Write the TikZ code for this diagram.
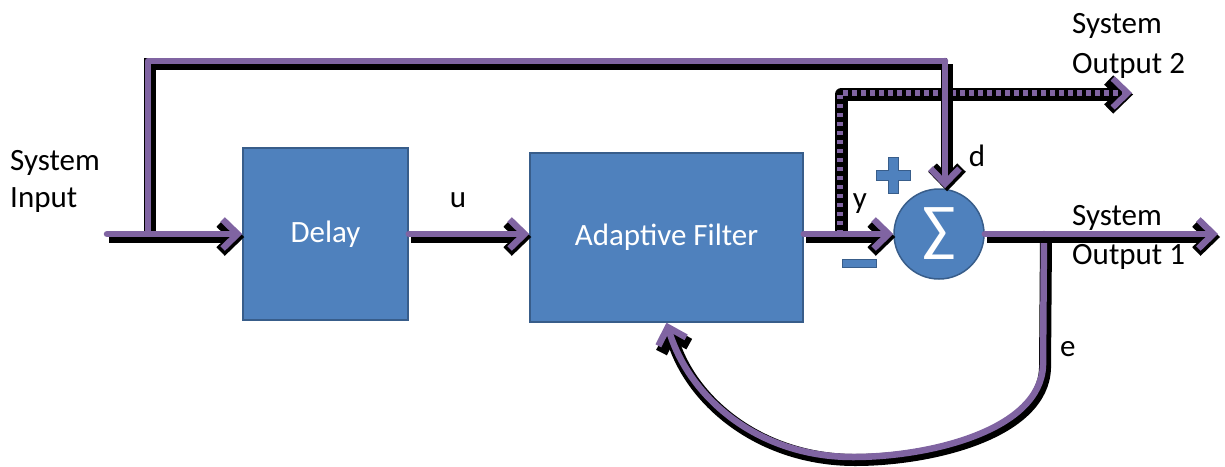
\documentclass[tikz,border=0pt]{standalone}
\usepackage{fontspec}
\setmainfont{Carlito}
\usetikzlibrary{arrows.meta}
\definecolor{boxfill}{HTML}{4F81BD}
\definecolor{boxline}{HTML}{385D8A}
\definecolor{wire}{HTML}{8064A2}
\begin{document}
\begin{tikzpicture}[x=1pt,y=-1pt,
 lbl/.style={font=\fontsize{31}{39}\selectfont, inner sep=0pt, anchor=base west},
 blk/.style={draw=boxline, fill=boxfill, line width=1.5pt, inner sep=0pt, text=white, font=\fontsize{31}{39}\selectfont},
 wirestyle/.style={draw=wire, line width=6.5pt, line cap=round, line join=round,
   preaction={draw=black, line width=12pt, transform canvas={xshift=2pt,yshift=-3pt}}},
 dotwire/.style={draw=wire, line width=6pt, line cap=butt, line join=miter, dash pattern=on 4.5pt off 4.5pt,
   preaction={draw=black, solid, line width=13pt, line cap=round, line join=round, transform canvas={xshift=1pt,yshift=-1.5pt}}},
 arr/.style={-{Straight Barb[length=15pt 0 0,width=29pt 0 0]}},
 sign/.style={fill=boxfill, draw=boxline, line width=1pt}
 ]
\useasboundingbox (0,0) rectangle (1225,466);
% blocks
\node[blk, minimum width=165pt, minimum height=172pt] (delay) at (325.5,234) {Delay};
\node[blk, minimum width=273pt, minimum height=169pt] (af) at (666.5,237.5) {Adaptive Filter};
\node[circle, draw=boxline, fill=boxfill, line width=1.5pt, minimum size=90pt, inner sep=0pt] (sum) at (939,234) {};
\node[text=white, inner sep=0pt, font=\fontsize{62}{62}\selectfont] (sigma) at (sum.center) {∑};
% coordinates
\coordinate (in) at (107,234);
\coordinate (br) at (148,234);
\coordinate (tl) at (148,61);
\coordinate (tr) at (945,61);
\coordinate (dy) at (840,234);
\coordinate (dtl) at (840,93);
\coordinate (o2) at (1132,93);
\coordinate (o1) at (1218,234);
\coordinate (eb) at (1044,234);
\coordinate (ev) at (1043,365);
\coordinate (ebot) at (853,457);
% connectors
\draw[wirestyle] (br) -- (tl) -- (tr);
\draw[wirestyle, arr] (in) -- (delay.west);
\draw[wirestyle, arr] (delay.east) -- (delay.east -| af.west);
\draw[dotwire, arr] (dy) -- (dtl) -- (o2);
\draw[wirestyle, arr] (tr) -- (tr |- sum.north);
\draw[wirestyle, arr] (sum.west -| af.east) -- (sum.west);
\draw[wirestyle, arr] (eb) -- (ev) .. controls (1041,430) and (930,457) .. (ebot) .. controls (760,457) and (690,400) .. (af.south);
\draw[wirestyle, arr] (sum.east) -- (o1);
% signs
\path[sign] (888,157) -- (898,157) -- (898,170) -- (910,170) -- (910,180) -- (898,180) -- (898,193) -- (888,193) -- (888,180) -- (876,180) -- (876,170) -- (888,170) -- cycle;
\path[sign] (842,259) rectangle (876,267);
% labels
\node[lbl] (sin1) at (10,170) {System};
\node[lbl] (sin2) at (10,207) {Input};
\node[lbl, anchor=base] (lu) at (458,207) {u};
\node[lbl, anchor=base] (ly) at (860,208) {y};
\node[lbl, anchor=base] (ld) at (977,166) {d};
\node[lbl] (le) at (1060,356) {e};
\node[lbl] (so2a) at (1072,33) {System};
\node[lbl] (so2b) at (1072,73) {Output 2};
\node[lbl] (so1a) at (1072,225) {System};
\node[lbl] (so1b) at (1072,264) {Output 1};
\end{tikzpicture}
\end{document}
